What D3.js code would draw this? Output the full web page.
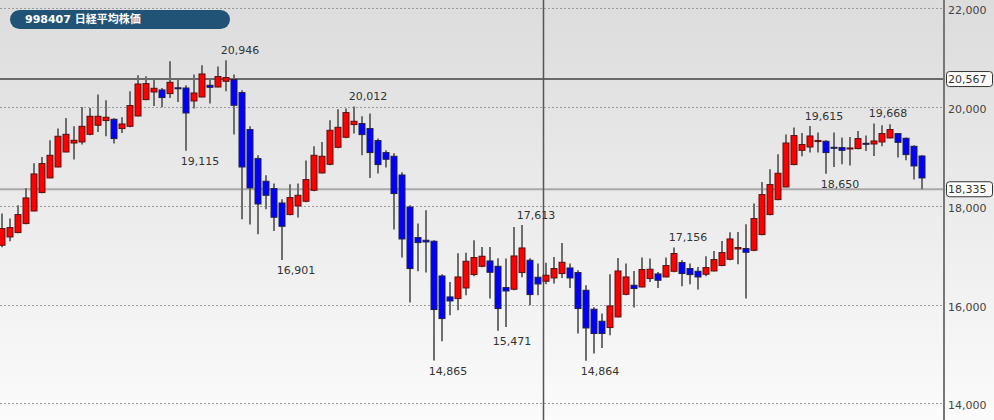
<!DOCTYPE html>
<html><head><meta charset="utf-8">
<script src="https://cdn.jsdelivr.net/npm/d3@7"></script>
<style>html,body{margin:0;padding:0;background:#fff;overflow:hidden}</style>
</head><body><div id="chart"></div>
<script>
const title = "998407 日経平均株価";
const opens  = [17201,17369,17458,17640,17895,18268,18564,18786,19090,19272,19293,19448,19631,19726,19752,19564,19610,19819,20151,20305,20346,20273,20390,20386,20123,20204,20441,20406,20522,20556,20293,19544,18956,18497,18349,18057,17822,17997,18092,18314,18665,18841,19185,19388,19645,19665,19564,19321,19078,19003,18624,17976,17357,17302,17282,16579,16154,16121,16336,16607,16775,16883,16775,16344,16310,16648,16897,16553,16472,16539,16628,16741,16648,16289,15905,15662,15534,15749,16208,16391,16356,16526,16620,16559,16674,16850,16729,16674,16613,16680,16790,16917,17126,17134,17099,17417,17822,18126,18381,18835,19124,19191,19301,19307,19185,19179,19151,19159,19266,19252,19293,19374,19463,19367,19205,19009];
const highs  = [17843,17741,18011,18361,18861,18989,19327,19564,19779,19610,20001,19981,20252,20137,19773,19793,20319,20643,20623,20556,20386,20930,20589,20441,20657,20846,20589,20819,20946,20657,20339,19610,19023,18618,18450,18132,18436,18450,18916,19205,19293,19732,19955,19969,20012,19813,19868,19361,19124,19064,18679,18011,17640,17909,17302,16613,16458,17039,17049,17302,17166,17166,16937,16931,17571,17613,16937,16830,16846,16964,17247,16830,16694,16391,15945,15818,16613,16944,16830,16680,16952,16931,16660,16952,17156,16897,16830,16761,16978,17085,17288,17464,17470,17626,18045,18483,18740,19043,19442,19584,19475,19615,19483,19327,19483,19382,19394,19515,19422,19668,19631,19651,19475,19382,19226,19023];
const lows   = [17160,17282,17444,17626,17889,18254,18558,18780,19084,18936,19240,19428,19495,19408,19260,19475,19590,19813,20137,20022,19995,20184,20103,19115,19969,20198,20070,20400,20319,19442,17727,17620,17423,17930,17490,16901,17808,17762,18072,18294,18659,18821,19165,19368,19463,19023,18564,18653,18774,17519,16952,16040,16674,16648,14865,15257,15783,15884,16188,16573,16755,16121,15471,15546,16290,16553,15986,16188,16411,16425,16539,16336,15413,14864,15008,15121,15378,15743,16188,15939,16350,16458,16336,16553,16654,16370,16411,16304,16573,16674,16775,16897,16816,16121,17079,17403,17808,18112,18375,18821,19003,19078,19078,18650,18786,18841,18815,19145,19110,19009,19205,19368,18977,18922,18531,18335];
const closes = [17539,17559,17822,18159,18645,18855,19023,19408,19448,19327,19610,19813,19813,19793,19361,19657,20030,20467,20475,20380,20192,20501,20374,19880,20285,20670,20400,20617,20597,20036,18786,18361,18037,18213,17768,17585,18167,18213,18531,19023,19003,19529,19590,19888,19712,19442,19078,18835,18942,18248,17328,16729,17255,17268,15899,15716,16073,16559,16877,16952,16978,16654,15919,16275,16984,17146,16202,16417,16593,16729,16856,16539,15919,15526,15413,15413,15972,16680,16559,16324,16709,16715,16492,16790,17033,16628,16607,16559,16749,16911,17053,17328,17154,17059,17741,18227,18430,18659,19272,19422,19240,19414,19321,19078,19165,19124,19171,19361,19246,19313,19463,19544,19286,19037,18807,18564];
const peakIdx   = [28, 44, 65, 84, 101, 109];
const troughIdx = [23, 35, 54, 62, 73, 103];
const yTicks = [14000, 16000, 18000, 20000, 22000];
const refLines = [20567, 18335];

const W = 994, H = 420;
const svg = d3.select("#chart").append("svg").attr("width", W).attr("height", H)
  .style("font-family", "'DejaVu Sans', Verdana, sans-serif");

const defs = svg.append("defs");
const grad = defs.append("linearGradient").attr("id","bg").attr("x1",0).attr("y1",0).attr("x2",0).attr("y2",1);
grad.append("stop").attr("offset","0%").attr("stop-color","#dcdcdc");
grad.append("stop").attr("offset","100%").attr("stop-color","#fbfbfb");
svg.append("rect").attr("width",W).attr("height",H).attr("fill","url(#bg)");

const plotRight = 944;
const n = opens.length;
const x = d3.scaleBand().domain(d3.range(n)).range([-2, 926]).padding(0);
const cx = i => x(i) + x.bandwidth()/2;
const y = d3.scaleLinear().domain([14000, 22000]).range([403.3, 8.3]);

// grid
svg.append("g").selectAll("line").data(yTicks).join("line")
  .attr("x1",0).attr("x2",plotRight).attr("y1",d=>Math.round(y(d))+0.5).attr("y2",d=>Math.round(y(d))+0.5)
  .attr("stroke","#9a9a9a").attr("stroke-dasharray","2,2").attr("stroke-width",1);

// axis labels
const axis = d3.axisRight(y).tickValues(yTicks).tickSize(0).tickPadding(0).tickFormat(d3.format(","));
const ag = svg.append("g").attr("transform",`translate(948,2)`).call(axis);
ag.select(".domain").remove();
ag.selectAll("text").attr("fill","#444").style("font-size","11px").style("font-family","'DejaVu Sans', Verdana, sans-serif");

// reference lines
svg.append("line").attr("x1",0).attr("x2",plotRight).attr("y1",y(refLines[0])).attr("y2",y(refLines[0]))
  .attr("stroke","#6a6a6a").attr("stroke-width",2);
svg.append("line").attr("x1",0).attr("x2",plotRight).attr("y1",y(refLines[1])).attr("y2",y(refLines[1]))
  .attr("stroke","#a8a8a8").attr("stroke-width",2);

// crosshair
svg.append("line").attr("x1",543.5).attr("x2",543.5).attr("y1",0).attr("y2",H)
  .attr("stroke","#555").attr("stroke-width",1.5);

// candles
const idx = d3.range(n);
const g = svg.append("g");
g.selectAll("line.wick").data(idx).join("line").attr("class","wick")
  .attr("x1",i=>cx(i)).attr("x2",i=>cx(i)).attr("y1",i=>y(highs[i])).attr("y2",i=>y(lows[i]))
  .attr("stroke","#6e6e6e").attr("stroke-width",2);
g.selectAll("rect.body").data(idx).join("rect").attr("class","body")
  .attr("x",i=>cx(i)-3).attr("width",6)
  .attr("y",i=>y(Math.max(opens[i],closes[i])))
  .attr("height",i=>Math.max(1, Math.abs(y(opens[i])-y(closes[i]))))
  .attr("fill",i=>closes[i]>=opens[i] ? "#ff0000" : "#0000ff")
  .attr("stroke",i=>closes[i]>=opens[i] ? "#5a1010" : "#20204a").attr("stroke-width",1);

// peak / trough labels
const fmt = d3.format(",");
svg.append("g").selectAll("text").data(peakIdx).join("text")
  .attr("x",i=>cx(i)+14).attr("y",i=>y(highs[i])-9).attr("text-anchor","middle").attr("dominant-baseline","middle")
  .attr("fill","#333").style("font-size","11px").text(i=>fmt(highs[i]));
svg.append("g").selectAll("text").data(troughIdx).join("text")
  .attr("x",i=>cx(i)+14).attr("y",i=>y(lows[i])+11).attr("text-anchor","middle").attr("dominant-baseline","middle")
  .attr("fill","#333").style("font-size","11px").text(i=>fmt(lows[i]));

// right axis line
svg.append("line").attr("x1",plotRight).attr("x2",plotRight).attr("y1",0).attr("y2",H)
  .attr("stroke","#777").attr("stroke-width",2);

// reference value boxes
refLines.forEach(v=>{
  const yy = y(v);
  svg.append("rect").attr("x",946.5).attr("y",yy-7.5).attr("width",46).attr("height",15).attr("rx",3)
    .attr("fill","#fff").attr("stroke","#333").attr("stroke-width",1);
  svg.append("text").attr("x",948).attr("y",yy+1).attr("dominant-baseline","middle")
    .attr("fill","#333").style("font-size","11px").text(fmt(v));
});

// title badge
svg.append("rect").attr("x",10).attr("y",10).attr("width",220).attr("height",19).attr("rx",9.5)
  .attr("fill","#215377");
svg.append("text").attr("x",25).attr("y",20).attr("dominant-baseline","middle")
  .attr("fill","#fff").style("font-size","11px").style("font-weight","bold")
  .style("font-family","'DejaVu Sans', 'Noto Sans CJK JP', sans-serif")
  .text(title);
</script></body></html>
